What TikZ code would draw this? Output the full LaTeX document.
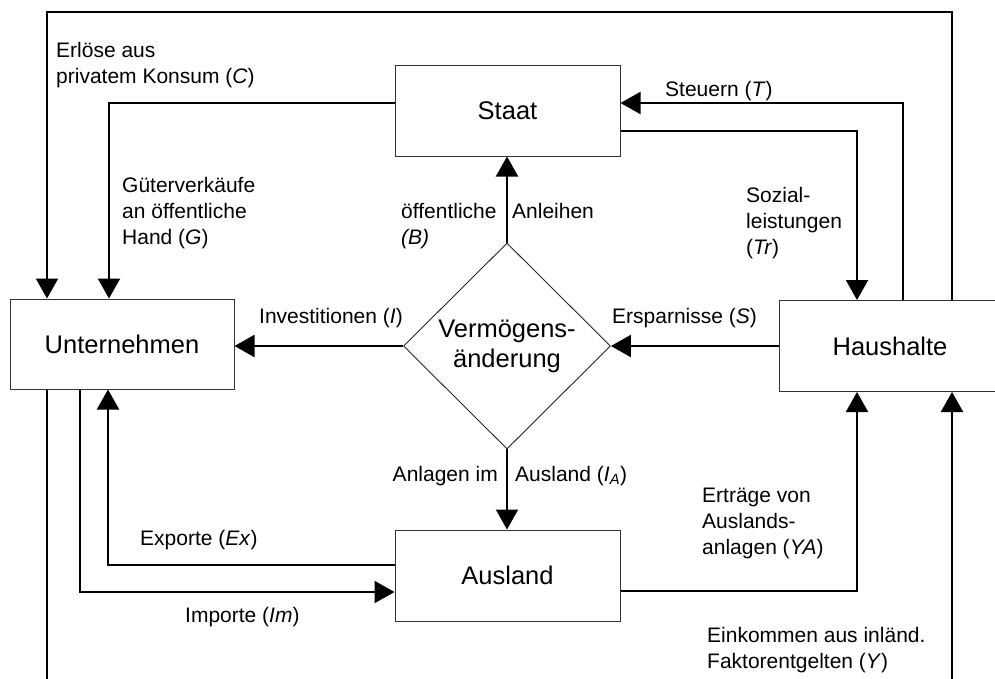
\documentclass[tikz,border=0pt]{standalone}
\usepackage{fontspec}
\setmainfont{Liberation Sans}
\usetikzlibrary{arrows.meta,shapes.geometric}
\newcommand{\mlines}[1]{\begin{tabular}[t]{@{}l@{}}#1\end{tabular}}
\begin{document}
\begin{tikzpicture}[x=1pt,y=-1pt,
  box/.style={draw=black!80,line width=1pt,minimum width=225pt,minimum height=91pt,inner sep=0pt,font=\fontsize{25.5}{30}\selectfont},
  dia/.style={draw=black!85,line width=0.9pt,shape=diamond,minimum width=207pt,minimum height=206pt,inner sep=0pt,align=center,font=\fontsize{25.5}{30}\selectfont},
  flow/.style={line width=2.2pt,-{Triangle[length=20pt,width=22pt]}},
  lab/.style={font=\fontsize{21}{26}\selectfont,inner sep=0pt,anchor=base west}]
\useasboundingbox (0,0) rectangle (995,678);
\begin{scope}
\clip (0,0) rectangle (995,678);
% boxes
\node[box] (staat) at (507.5,110.5) {Staat};
\node[box,minimum width=224pt,minimum height=90pt] (unt) at (122,344) {Unternehmen};
\node[box,minimum width=222pt] (haus) at (890,346) {Haushalte};
\node[box] (ausl) at (507.5,575.5) {Ausland};
\node[dia] (dia) at (507,346) {Vermögens-\\änderung};
% bend points
\coordinate (tl) at (47,12);
\coordinate (tr) at (952,12);
\coordinate (bl) at (47,700);
\coordinate (br) at (952,700);
\coordinate (g) at (109,103);
\coordinate (t) at (903,103);
\coordinate (trc) at (857,131);
\coordinate (ex) at (108,565);
\coordinate (im) at (80,592);
\coordinate (ya) at (857,591);
% connectors
\draw[flow] (haus.north -| tr) |- (tl) -- (unt.north -| tl);
\draw[flow] (unt.south -| bl) |- (br) -- (haus.south -| br);
\draw[flow] (staat.west |- g) -| (unt.north -| g);
\draw[flow] (haus.north -| t) |- (staat.east |- t);
\draw[flow] (staat.east |- trc) -| (haus.north -| trc);
\draw[flow] (haus.west) -- (dia.east);
\draw[flow] (dia.west) -- (unt.east |- dia.west);
\draw[flow] (dia.north) -- (staat.south -| dia.north);
\draw[flow] (dia.south) -- (ausl.north -| dia.south);
\draw[flow] (ausl.west |- ex) -| (unt.south -| ex);
\draw[flow] (unt.south -| im) |- (ausl.west |- im);
\draw[flow] (ausl.east |- ya) -| (haus.south -| ya);
% labels
\node[lab] (lC) at (56,57) {\mlines{Erlöse aus\\privatem Konsum (\textit{C})}};
\node[lab] (lG) at (122,192) {\mlines{Güterverkäufe\\an öffentliche\\Hand (\textit{G})}};
\node[lab] (lB) at (401,218) {\mlines{öffentliche\\\textit{(B)}}};
\node[lab] (lB2) at (512,218) {Anleihen};
\node[lab] (lT) at (665,96) {Steuern (\textit{T})};
\node[lab] (lTr) at (746,202) {\mlines{Sozial-\\leistungen\\(\textit{Tr})}};
\node[lab] (lI) at (259,323) {Investitionen (\textit{I})};
\node[lab] (lS) at (612,323) {Ersparnisse (\textit{S})};
\node[lab,anchor=base east] (lIA) at (498,481) {Anlagen im};
\node[lab] (lIA2) at (515,481) {Ausland (\textit{I}\textsubscript{\textit{A}})};
\node[lab] (lYA) at (702,502) {\mlines{Erträge von\\Auslands-\\anlagen (\textit{YA})}};
\node[lab] (lEx) at (140,545) {Exporte (\textit{Ex})};
\node[lab] (lIm) at (185,622) {Importe (\textit{Im})};
\node[lab] (lY) at (707,642) {\mlines{Einkommen aus inländ.\\Faktorentgelten (\textit{Y})}};
\end{scope}
\end{tikzpicture}
\end{document}
